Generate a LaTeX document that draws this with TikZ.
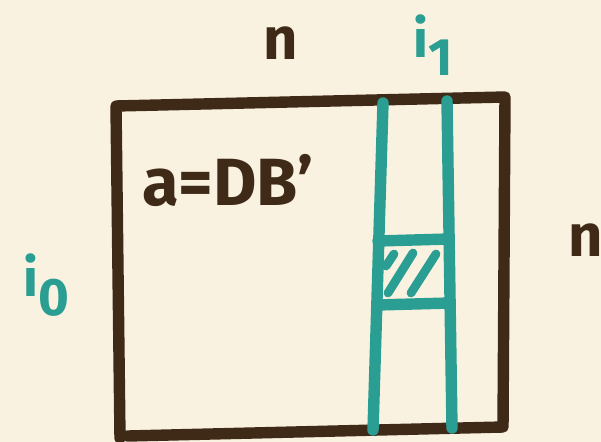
\documentclass[tikz,border=0pt]{standalone}
\usepackage{fontspec}
\setmainfont{Fira Sans}
\definecolor{paper}{HTML}{FAF2E0}
\definecolor{ink}{HTML}{3F2A18}
\definecolor{sea}{HTML}{2A9E92}
\begin{document}
\begin{tikzpicture}[x=0.02cm,y=-0.02cm,
  inkline/.style={draw=ink,line width=6.5pt,line cap=round,line join=round},
  sealine/.style={draw=sea,line width=6.5pt,line cap=round},
  hatchline/.style={draw=sea,line width=5pt,line cap=round},
  bigtext/.style={font=\fontsize{38}{38}\selectfont\bfseries,text=ink,inner sep=0pt},
  nlabel/.style={font=\fontsize{34}{34}\selectfont\bfseries,text=ink,inner sep=0pt},
  idx/.style={font=\fontsize{30}{30}\selectfont\bfseries,text=sea,inner sep=0pt}]
\fill[paper] (0,0) rectangle (601,442);
\useasboundingbox (0,0) rectangle (601,442);

% the matrix
\draw[inkline] (120,438) -- (116,106) -- (505,97) -- (503,427) -- (128,436);

% column band
\draw[sealine] (383,103) -- (373,430);
\draw[sealine] (447,101) -- (452,428);
\draw[sealine] (378,241) -- (449,239);
\draw[sealine] (377,305) -- (450,303);

% hatched block
\draw[hatchline] (386,266) -- (394,254);
\draw[hatchline] (388,293) -- (413,253);
\draw[hatchline] (411,293) -- (436,254);

\node[bigtext] (eqn) at (228,180) {a=DB'};
\node[nlabel] (topn) at (281,43) {n};
\node[nlabel] (rightn) at (586,240) {n};
\node[idx] (ione) at (433,45) {i\raisebox{-0.35em}{1}};
\node[idx] (izero) at (46,285) {i\raisebox{-0.35em}{0}};
\end{tikzpicture}
\end{document}
